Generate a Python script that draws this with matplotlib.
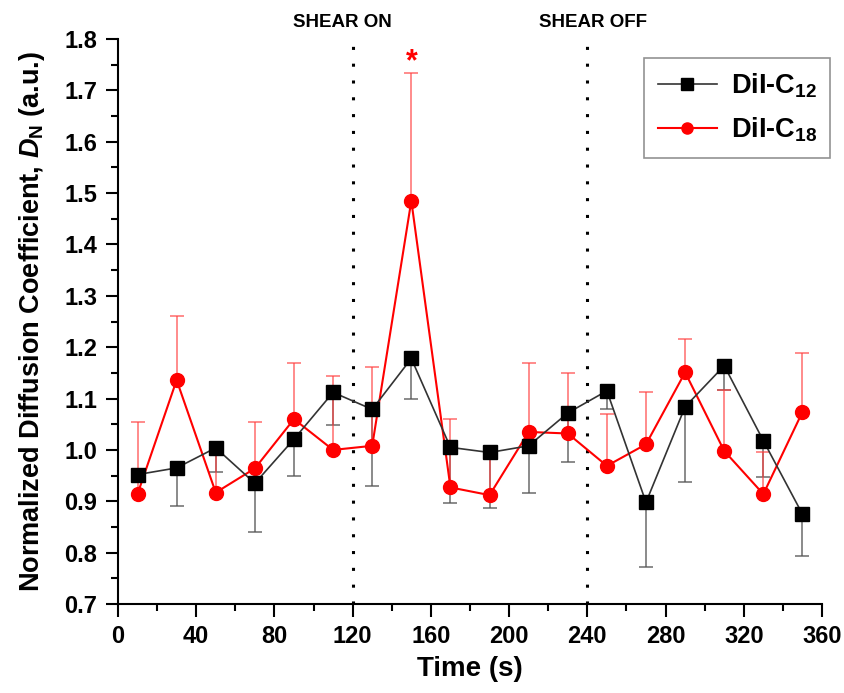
import matplotlib
matplotlib.use("Agg")
import matplotlib.pyplot as plt
from matplotlib.ticker import MultipleLocator

plt.rcParams['font.family'] = ['Liberation Sans', 'DejaVu Sans']
plt.rcParams['font.weight'] = 'bold'
plt.rcParams['mathtext.fontset'] = 'custom'
plt.rcParams['mathtext.rm'] = 'Liberation Sans:bold'
plt.rcParams['mathtext.it'] = 'Liberation Sans:italic:bold'
plt.rcParams['mathtext.bf'] = 'Liberation Sans:bold'

time = [10, 30, 50, 70, 90, 110, 130, 150, 170, 190, 210, 230, 250, 270, 290, 310, 330, 350]

# DiI-C12: mean and lower error bar end
c12 = [0.952, 0.965, 1.004, 0.935, 1.021, 1.112, 1.079, 1.178, 1.005, 0.995, 1.008, 1.072,
       1.115, 0.898, 1.084, 1.164, 1.018, 0.875]
c12_low = [0.94, 0.891, 0.957, 0.84, 0.949, 1.048, 0.93, 1.10, 0.897, 0.886, 0.917, 0.976,
           1.08, 0.772, 0.937, 1.117, 0.947, 0.793]

# DiI-C18: mean and upper error bar end
c18 = [0.914, 1.136, 0.917, 0.964, 1.06, 1.0, 1.008, 1.485, 0.927, 0.912, 1.035, 1.032,
       0.969, 1.011, 1.151, 0.998, 0.914, 1.074]
c18_high = [1.054, 1.261, 1.016, 1.054, 1.17, 1.144, 1.161, 1.733, 1.06, 1.0, 1.17, 1.149,
            1.07, 1.113, 1.216, 1.117, 0.996, 1.188]

shear_times = [120, 240]
shear_labels = ["SHEAR ON", "SHEAR OFF"]
shear_label_x = [115, 243]

fig = plt.figure(figsize=(8.45, 6.93), dpi=100)
ax = fig.add_axes([0.1396, 0.1284, 0.8332, 0.8153])

c12_err = [[m - l for m, l in zip(c12, c12_low)], [0] * len(c12)]
c18_err = [[0] * len(c18), [h - m for m, h in zip(c18, c18_high)]]

ax.errorbar(time, c12, yerr=c12_err, fmt='none', ecolor='#555555', elinewidth=1.2,
            capsize=5, capthick=1.2, alpha=0.8, zorder=2)
ax.errorbar(time, c18, yerr=c18_err, fmt='none', ecolor='#ff4040', elinewidth=1.2,
            capsize=5, capthick=1.2, alpha=0.7, zorder=2)

ax.plot(time, c12, color='#333333', lw=1.2, marker='s', ms=10, mfc='black', mec='black',
        label=r'DiI-C$_{\mathbf{12}}$', zorder=4)
ax.plot(time, c18, color='#ff0000', lw=1.5, marker='o', ms=10, mfc='#ff0000', mec='#ff0000',
        label=r'DiI-C$_{\mathbf{18}}$', zorder=3)

for t, lx, lab in zip(shear_times, shear_label_x, shear_labels):
    ax.axvline(t, color='black', ls=(0, (1, 4.5)), lw=2.2, zorder=1)
    ax.text(lx, 1.815, lab, ha='center', va='bottom', fontsize=13.5, fontweight='bold')

ax.text(150, 1.755, '*', color='#ff0000', ha='center', va='center', fontsize=22, fontweight='bold')

ax.set_xlim(0, 360)
ax.set_ylim(0.7, 1.8)
ax.xaxis.set_major_locator(MultipleLocator(40))
ax.xaxis.set_minor_locator(MultipleLocator(20))
ax.yaxis.set_major_locator(MultipleLocator(0.1))
ax.yaxis.set_minor_locator(MultipleLocator(0.05))
ax.tick_params(which='major', direction='out', length=9, width=1.5, labelsize=17, pad=6)
ax.tick_params(which='minor', direction='out', length=5, width=1.5)
ax.yaxis.set_major_formatter(plt.FormatStrFormatter('%.1f'))
for lbl in ax.get_xticklabels() + ax.get_yticklabels():
    lbl.set_fontweight('bold')

ax.spines['top'].set_visible(False)
ax.spines['right'].set_visible(False)
ax.spines['left'].set_linewidth(1.5)
ax.spines['bottom'].set_linewidth(1.5)

ax.set_xlabel('Time (s)', fontsize=20, fontweight='bold', labelpad=6)
ax.set_ylabel(r'Normalized Diffusion Coefficient, $\mathit{D}_{\mathbf{N}}$ (a.u.)',
              fontsize=19.5, fontweight='bold', labelpad=12)

leg = ax.legend(loc='upper right', bbox_to_anchor=(1.012, 0.967), fontsize=19.5, frameon=True,
                fancybox=False, edgecolor='#777777', handlelength=2.2, borderpad=0.5,
                labelspacing=0.6, handletextpad=0.5, borderaxespad=0)
for h in leg.legend_handles:
    h.set_markersize(8)
leg.get_frame().set_linewidth(1.2)

fig.savefig('out.png', dpi=100)
